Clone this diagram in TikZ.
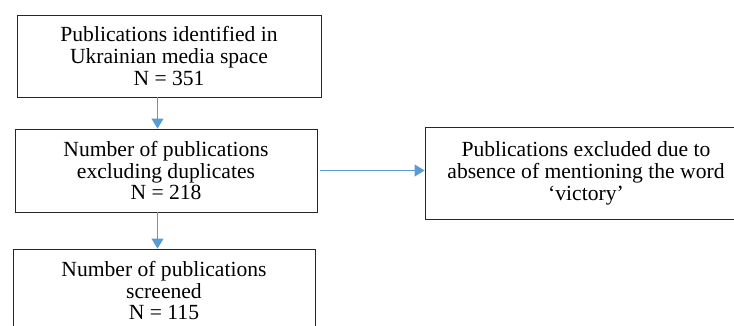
\documentclass[tikz,border=0pt]{standalone}
\usepackage{fontspec}
\setmainfont{Liberation Serif}
\usepackage{tikz}
\usetikzlibrary{arrows.meta}
\usetikzlibrary{positioning}
\definecolor{arrowblue}{HTML}{5B9BD5}

\begin{document}
\begin{tikzpicture}[x=1pt, y=1pt, >={Triangle[length=10pt,width=12pt]},
	box/.style={draw=black!85, line width=0.9pt, align=center, inner sep=2pt,
		font=\fontsize{21.6}{21.8}\selectfont},
	flow/.style={->, arrowblue, line width=1.1pt}]
	\useasboundingbox (0,0) rectangle (734,-325);
	\clip (0,0) rectangle (734,-325);
	
	% Caixas
	\node[box, minimum width=304pt, minimum height=82pt] (found) at (169,-56)
		{Publications identified in\\Ukrainian media space\\N = 351};
	\node[box, minimum width=302pt, minimum height=83pt] (nodup) at (166,-170.5)
		{Number of publications\\excluding duplicates\\N = 218};
	\node[box, minimum width=322pt, minimum height=92pt] (excl) at (586,-173.5)
		{Publications excluded due to\\absence of mentioning the word\\‘victory’};
	\node[box, minimum width=302pt, minimum height=83pt] (screen) at (164,-290.5)
		{Number of publications\\screened\\N = 115};
	
	% Setas
	\coordinate (axis) at (157.5,0);
	\draw[flow] (found.south -| axis) -- (nodup.north -| axis);
	\draw[flow] (nodup.south -| axis) -- (screen.north -| axis);
	\draw[flow] ([xshift=3pt]nodup.east) -- (excl.west |- nodup.east);
\end{tikzpicture}
\end{document}
